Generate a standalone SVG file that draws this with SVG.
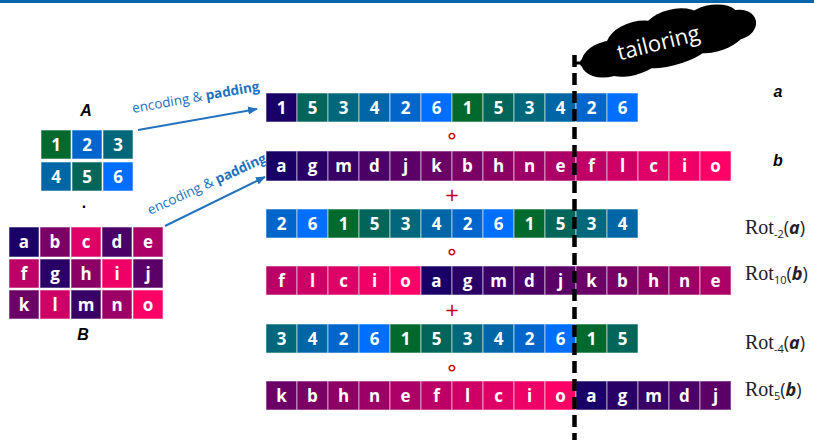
<svg xmlns="http://www.w3.org/2000/svg" width="814" height="440" viewBox="0 0 814 440">
<defs>
<style>
.cell{stroke:#ffffff;stroke-opacity:0.55;stroke-width:1}
.t{font-family:"Open Sans","Noto Sans",sans-serif;font-weight:bold;font-size:17px;fill:#fff;text-anchor:middle}
.d1{fill:#006A2E}.d5{fill:#00665A}.d3{fill:#00687A}.d4{fill:#0066A6}.d2{fill:#0066CC}.d6{fill:#006EFF}.d0{fill:#180066}
.la{fill:#180066}.lg{fill:#290066}.lm{fill:#390066}.ld{fill:#4A0066}.lj{fill:#5A0066}.lk{fill:#6B0066}.lb{fill:#7B0066}.lh{fill:#8C0066}.ln{fill:#9C0066}.le{fill:#AD0066}.lf{fill:#BD0066}.ll{fill:#CE0066}.lc{fill:#DE0066}.li{fill:#EF0066}.lo{fill:#FF0066}
.lbl{font-family:"Liberation Sans",Arial,sans-serif;font-weight:bold;font-style:italic;font-size:16px;fill:#000;text-anchor:middle}
.enc{font-family:"Open Sans","Noto Sans",sans-serif;font-size:13.5px;fill:#2272BE}
.op{font-family:"DejaVu Sans",sans-serif;fill:#C00000;text-anchor:middle}
.rot{font-family:"Liberation Serif","Times New Roman",serif;font-size:20px;fill:#222}
.sub{font-family:"Open Sans",sans-serif;font-size:11px;fill:#222}
.par{font-family:"Open Sans",sans-serif;font-size:18px;fill:#222}
.arr{stroke:#2272BE;stroke-width:2;fill:none;marker-end:url(#ah)}
</style>
<marker id="ah" viewBox="0 0 10 10" refX="9" refY="5" markerWidth="5" markerHeight="5" orient="auto" markerUnits="strokeWidth">
<path d="M0,1 L10,5 L0,9 z" fill="#2272BE"/>
</marker>
</defs>
<rect x="0" y="0" width="814" height="3" fill="#0565A8"/>

<!-- Matrix A -->
<g id="matrixA">
<text class="lbl" x="86" y="116" font-size="17">A</text>
<rect class="cell d1" x="41" y="130" width="30" height="29"/><text class="t" x="56" y="151">1</text>
<rect class="cell d2" x="72" y="130" width="30" height="29"/><text class="t" x="87" y="151">2</text>
<rect class="cell d3" x="103" y="130" width="30" height="29"/><text class="t" x="118" y="151">3</text>
<rect class="cell d4" x="41" y="162" width="30" height="29"/><text class="t" x="56" y="183">4</text>
<rect class="cell d5" x="72" y="162" width="30" height="29"/><text class="t" x="87" y="183">5</text>
<rect class="cell d6" x="103" y="162" width="30" height="29"/><text class="t" x="118" y="183">6</text>
</g>
<text x="84" y="208" font-family="Liberation Sans,sans-serif" font-weight="bold" font-size="16" text-anchor="middle">.</text>

<!-- Matrix B -->
<g id="matrixB">
<rect class="cell la" x="9" y="227" width="30" height="30"/><text class="t" x="24" y="248">a</text>
<rect class="cell lb" x="40" y="227" width="30" height="30"/><text class="t" x="55" y="248">b</text>
<rect class="cell lc" x="71" y="227" width="30" height="30"/><text class="t" x="86" y="248">c</text>
<rect class="cell ld" x="102" y="227" width="30" height="30"/><text class="t" x="117" y="248">d</text>
<rect class="cell le" x="133" y="227" width="30" height="30"/><text class="t" x="148" y="248">e</text>
<rect class="cell lf" x="9" y="259" width="30" height="29"/><text class="t" x="24" y="280">f</text>
<rect class="cell lg" x="40" y="259" width="30" height="29"/><text class="t" x="55" y="280">g</text>
<rect class="cell lh" x="71" y="259" width="30" height="29"/><text class="t" x="86" y="280">h</text>
<rect class="cell li" x="102" y="259" width="30" height="29"/><text class="t" x="117" y="280">i</text>
<rect class="cell lj" x="133" y="259" width="30" height="29"/><text class="t" x="148" y="280">j</text>
<rect class="cell lk" x="9" y="290" width="30" height="29"/><text class="t" x="24" y="311">k</text>
<rect class="cell ll" x="40" y="290" width="30" height="29"/><text class="t" x="55" y="311">l</text>
<rect class="cell lm" x="71" y="290" width="30" height="29"/><text class="t" x="86" y="311">m</text>
<rect class="cell ln" x="102" y="290" width="30" height="29"/><text class="t" x="117" y="311">n</text>
<rect class="cell lo" x="133" y="290" width="30" height="29"/><text class="t" x="148" y="311">o</text>
<text class="lbl" x="83" y="340" font-size="17">B</text>
</g>

<!-- connectors -->
<g id="connectors">
<line class="arr" x1="138" y1="130" x2="257" y2="109"/>
<line class="arr" x1="165" y1="226" x2="265" y2="177"/>
<text class="enc" transform="translate(133,113) rotate(-10)">encoding &amp; <tspan font-weight="bold">padding</tspan></text>
<text class="enc" transform="translate(150,215) rotate(-24.5)">encoding &amp; <tspan font-weight="bold">padding</tspan></text>
</g>

<!-- Row a -->
<g id="row1">
<rect class="cell d0" x="266" y="93" width="31" height="29"/><text class="t" x="281.5" y="114">1</text>
<rect class="cell d5" x="297" y="93" width="31" height="29"/><text class="t" x="312.5" y="114">5</text>
<rect class="cell d3" x="328" y="93" width="31" height="29"/><text class="t" x="343.5" y="114">3</text>
<rect class="cell d4" x="359" y="93" width="31" height="29"/><text class="t" x="374.5" y="114">4</text>
<rect class="cell d2" x="390" y="93" width="31" height="29"/><text class="t" x="405.5" y="114">2</text>
<rect class="cell d6" x="421" y="93" width="31" height="29"/><text class="t" x="436.5" y="114">6</text>
<rect class="cell d1" x="452" y="93" width="31" height="29"/><text class="t" x="467.5" y="114">1</text>
<rect class="cell d5" x="483" y="93" width="31" height="29"/><text class="t" x="498.5" y="114">5</text>
<rect class="cell d3" x="514" y="93" width="31" height="29"/><text class="t" x="529.5" y="114">3</text>
<rect class="cell d4" x="545" y="93" width="31" height="29"/><text class="t" x="560.5" y="114">4</text>
<rect class="cell d2" x="576" y="93" width="31" height="29"/><text class="t" x="591.5" y="114">2</text>
<rect class="cell d6" x="607" y="93" width="31" height="29"/><text class="t" x="622.5" y="114">6</text>
</g>

<!-- Row b -->
<g id="row2">
<rect class="cell la" x="266" y="151" width="31" height="30"/><text class="t" x="281.5" y="172">a</text>
<rect class="cell lg" x="297" y="151" width="31" height="30"/><text class="t" x="312.5" y="172">g</text>
<rect class="cell lm" x="328" y="151" width="31" height="30"/><text class="t" x="343.5" y="172">m</text>
<rect class="cell ld" x="359" y="151" width="31" height="30"/><text class="t" x="374.5" y="172">d</text>
<rect class="cell lj" x="390" y="151" width="31" height="30"/><text class="t" x="405.5" y="172">j</text>
<rect class="cell lk" x="421" y="151" width="31" height="30"/><text class="t" x="436.5" y="172">k</text>
<rect class="cell lb" x="452" y="151" width="31" height="30"/><text class="t" x="467.5" y="172">b</text>
<rect class="cell lh" x="483" y="151" width="31" height="30"/><text class="t" x="498.5" y="172">h</text>
<rect class="cell ln" x="514" y="151" width="31" height="30"/><text class="t" x="529.5" y="172">n</text>
<rect class="cell le" x="545" y="151" width="31" height="30"/><text class="t" x="560.5" y="172">e</text>
<rect class="cell lf" x="576" y="151" width="31" height="30"/><text class="t" x="591.5" y="172">f</text>
<rect class="cell ll" x="607" y="151" width="31" height="30"/><text class="t" x="622.5" y="172">l</text>
<rect class="cell lc" x="638" y="151" width="31" height="30"/><text class="t" x="653.5" y="172">c</text>
<rect class="cell li" x="669" y="151" width="31" height="30"/><text class="t" x="684.5" y="172">i</text>
<rect class="cell lo" x="700" y="151" width="31" height="30"/><text class="t" x="715.5" y="172">o</text>
</g>

<!-- Row Rot-2(a) -->
<g id="row3">
<rect class="cell d2" x="266" y="209" width="31" height="29"/><text class="t" x="281.5" y="230">2</text>
<rect class="cell d6" x="297" y="209" width="31" height="29"/><text class="t" x="312.5" y="230">6</text>
<rect class="cell d1" x="328" y="209" width="31" height="29"/><text class="t" x="343.5" y="230">1</text>
<rect class="cell d5" x="359" y="209" width="31" height="29"/><text class="t" x="374.5" y="230">5</text>
<rect class="cell d3" x="390" y="209" width="31" height="29"/><text class="t" x="405.5" y="230">3</text>
<rect class="cell d4" x="421" y="209" width="31" height="29"/><text class="t" x="436.5" y="230">4</text>
<rect class="cell d2" x="452" y="209" width="31" height="29"/><text class="t" x="467.5" y="230">2</text>
<rect class="cell d6" x="483" y="209" width="31" height="29"/><text class="t" x="498.5" y="230">6</text>
<rect class="cell d1" x="514" y="209" width="31" height="29"/><text class="t" x="529.5" y="230">1</text>
<rect class="cell d5" x="545" y="209" width="31" height="29"/><text class="t" x="560.5" y="230">5</text>
<rect class="cell d3" x="576" y="209" width="31" height="29"/><text class="t" x="591.5" y="230">3</text>
<rect class="cell d4" x="607" y="209" width="31" height="29"/><text class="t" x="622.5" y="230">4</text>
</g>

<!-- Row Rot10(b) -->
<g id="row4">
<rect class="cell lf" x="266" y="266" width="31" height="29"/><text class="t" x="281.5" y="287">f</text>
<rect class="cell ll" x="297" y="266" width="31" height="29"/><text class="t" x="312.5" y="287">l</text>
<rect class="cell lc" x="328" y="266" width="31" height="29"/><text class="t" x="343.5" y="287">c</text>
<rect class="cell li" x="359" y="266" width="31" height="29"/><text class="t" x="374.5" y="287">i</text>
<rect class="cell lo" x="390" y="266" width="31" height="29"/><text class="t" x="405.5" y="287">o</text>
<rect class="cell la" x="421" y="266" width="31" height="29"/><text class="t" x="436.5" y="287">a</text>
<rect class="cell lg" x="452" y="266" width="31" height="29"/><text class="t" x="467.5" y="287">g</text>
<rect class="cell lm" x="483" y="266" width="31" height="29"/><text class="t" x="498.5" y="287">m</text>
<rect class="cell ld" x="514" y="266" width="31" height="29"/><text class="t" x="529.5" y="287">d</text>
<rect class="cell lj" x="545" y="266" width="31" height="29"/><text class="t" x="560.5" y="287">j</text>
<rect class="cell lk" x="576" y="266" width="31" height="29"/><text class="t" x="591.5" y="287">k</text>
<rect class="cell lb" x="607" y="266" width="31" height="29"/><text class="t" x="622.5" y="287">b</text>
<rect class="cell lh" x="638" y="266" width="31" height="29"/><text class="t" x="653.5" y="287">h</text>
<rect class="cell ln" x="669" y="266" width="31" height="29"/><text class="t" x="684.5" y="287">n</text>
<rect class="cell le" x="700" y="266" width="31" height="29"/><text class="t" x="715.5" y="287">e</text>
</g>

<!-- Row Rot-4(a) -->
<g id="row5">
<rect class="cell d3" x="266" y="324" width="31" height="29"/><text class="t" x="281.5" y="345">3</text>
<rect class="cell d4" x="297" y="324" width="31" height="29"/><text class="t" x="312.5" y="345">4</text>
<rect class="cell d2" x="328" y="324" width="31" height="29"/><text class="t" x="343.5" y="345">2</text>
<rect class="cell d6" x="359" y="324" width="31" height="29"/><text class="t" x="374.5" y="345">6</text>
<rect class="cell d1" x="390" y="324" width="31" height="29"/><text class="t" x="405.5" y="345">1</text>
<rect class="cell d5" x="421" y="324" width="31" height="29"/><text class="t" x="436.5" y="345">5</text>
<rect class="cell d3" x="452" y="324" width="31" height="29"/><text class="t" x="467.5" y="345">3</text>
<rect class="cell d4" x="483" y="324" width="31" height="29"/><text class="t" x="498.5" y="345">4</text>
<rect class="cell d2" x="514" y="324" width="31" height="29"/><text class="t" x="529.5" y="345">2</text>
<rect class="cell d6" x="545" y="324" width="31" height="29"/><text class="t" x="560.5" y="345">6</text>
<rect class="cell d1" x="576" y="324" width="31" height="29"/><text class="t" x="591.5" y="345">1</text>
<rect class="cell d5" x="607" y="324" width="31" height="29"/><text class="t" x="622.5" y="345">5</text>
</g>

<!-- Row Rot5(b) -->
<g id="row6">
<rect class="cell lk" x="266" y="381" width="31" height="29"/><text class="t" x="281.5" y="402">k</text>
<rect class="cell lb" x="297" y="381" width="31" height="29"/><text class="t" x="312.5" y="402">b</text>
<rect class="cell lh" x="328" y="381" width="31" height="29"/><text class="t" x="343.5" y="402">h</text>
<rect class="cell ln" x="359" y="381" width="31" height="29"/><text class="t" x="374.5" y="402">n</text>
<rect class="cell le" x="390" y="381" width="31" height="29"/><text class="t" x="405.5" y="402">e</text>
<rect class="cell lf" x="421" y="381" width="31" height="29"/><text class="t" x="436.5" y="402">f</text>
<rect class="cell ll" x="452" y="381" width="31" height="29"/><text class="t" x="467.5" y="402">l</text>
<rect class="cell lc" x="483" y="381" width="31" height="29"/><text class="t" x="498.5" y="402">c</text>
<rect class="cell li" x="514" y="381" width="31" height="29"/><text class="t" x="529.5" y="402">i</text>
<rect class="cell lo" x="545" y="381" width="31" height="29"/><text class="t" x="560.5" y="402">o</text>
<rect class="cell la" x="576" y="381" width="31" height="29"/><text class="t" x="591.5" y="402">a</text>
<rect class="cell lg" x="607" y="381" width="31" height="29"/><text class="t" x="622.5" y="402">g</text>
<rect class="cell lm" x="638" y="381" width="31" height="29"/><text class="t" x="653.5" y="402">m</text>
<rect class="cell ld" x="669" y="381" width="31" height="29"/><text class="t" x="684.5" y="402">d</text>
<rect class="cell lj" x="700" y="381" width="31" height="29"/><text class="t" x="715.5" y="402">j</text>
</g>

<!-- operators -->
<g id="operators">
<text class="op" x="452" y="143" font-size="22">∘</text>
<text class="op" x="452" y="201" font-size="18">+</text>
<text class="op" x="452" y="259" font-size="22">∘</text>
<text class="op" x="452" y="316" font-size="18">+</text>
<text class="op" x="452" y="375" font-size="22">∘</text>
</g>

<!-- right labels -->
<g id="labels">
<text class="lbl" x="778" y="97">a</text>
<text class="lbl" x="778" y="166">b</text>
<text x="745" y="234"><tspan class="rot">Rot</tspan><tspan class="sub" dy="4">-2</tspan><tspan class="par" dy="-4">(</tspan><tspan class="par" font-weight="bold" font-style="italic">a</tspan><tspan class="par">)</tspan></text>
<text x="745" y="280"><tspan class="rot">Rot</tspan><tspan class="sub" dy="4">10</tspan><tspan class="par" dy="-4">(</tspan><tspan class="par" font-weight="bold" font-style="italic">b</tspan><tspan class="par">)</tspan></text>
<text x="745" y="349"><tspan class="rot">Rot</tspan><tspan class="sub" dy="4">-4</tspan><tspan class="par" dy="-4">(</tspan><tspan class="par" font-weight="bold" font-style="italic">a</tspan><tspan class="par">)</tspan></text>
<text x="745" y="396"><tspan class="rot">Rot</tspan><tspan class="sub" dy="4">5</tspan><tspan class="par" dy="-4">(</tspan><tspan class="par" font-weight="bold" font-style="italic">b</tspan><tspan class="par">)</tspan></text>
</g>

<!-- tailoring line and cloud -->
<g id="tailoring">
<line x1="574.5" y1="55" x2="574.5" y2="440" stroke="#000" stroke-width="4.5" stroke-dasharray="12 6"/>
<line x1="574" y1="63" x2="584" y2="63" stroke="#000" stroke-width="3"/>
<circle cx="584" cy="63" r="4" fill="#000"/>
<circle cx="591" cy="60" r="6" fill="#000"/>
<g transform="translate(668,40) rotate(-14)" fill="#000">
<ellipse cx="-62" cy="4" rx="28" ry="18"/>
<ellipse cx="-30" cy="-6" rx="32" ry="20"/>
<ellipse cx="8" cy="-10" rx="32" ry="19"/>
<ellipse cx="45" cy="-6" rx="30" ry="18"/>
<ellipse cx="70" cy="2" rx="20" ry="15"/>
<ellipse cx="-40" cy="12" rx="30" ry="14"/>
<ellipse cx="0" cy="12" rx="40" ry="14"/>
<ellipse cx="45" cy="10" rx="30" ry="13"/>
<text x="-10" y="8" font-family="Open Sans,Noto Sans,sans-serif" font-size="22" fill="#fff" text-anchor="middle">tailoring</text>
</g>
</g>
</svg>
